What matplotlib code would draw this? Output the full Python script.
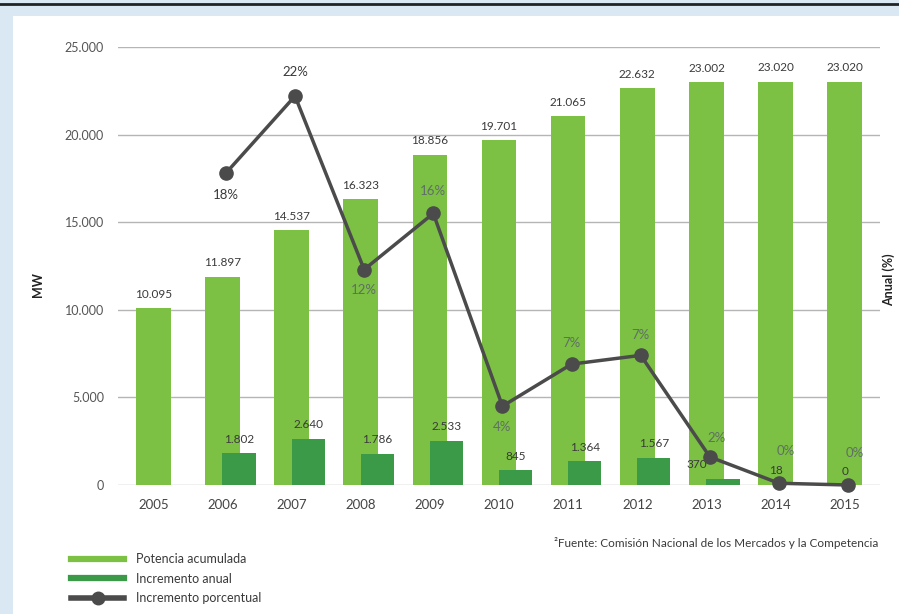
import numpy as np
import matplotlib.pyplot as plt
from matplotlib.lines import Line2D
from matplotlib.patches import Rectangle

plt.rcParams['font.family'] = ['Lato', 'DejaVu Sans']

# Datos (MW y %)
years = ["2005", "2006", "2007", "2008", "2009", "2010", "2011", "2012", "2013", "2014", "2015"]
potencia_acumulada = [10095, 11897, 14537, 16323, 18856, 19701, 21065, 22632, 23002, 23020, 23020]
incremento_anual = [None, 1802, 2640, 1786, 2533, 845, 1364, 1567, 370, 18, 0]
incremento_pct = [None, 17.8, 22.2, 12.3, 15.5, 4.5, 6.9, 7.4, 1.6, 0.1, 0.0]
ytick_labels = ["0", "5.000", "10.000", "15.000", "20.000", "25.000"]

# colores
c_acum = "#7cc143"
c_anual = "#3a9a48"
c_line = "#4b4b4b"
c_text = "#3a3a3a"

# desplazamientos de las etiquetas de porcentaje (puntos) y de incremento anual (unidades x)
pct_dy = [0, -16, 17, -14.5, 16.5, -15, 15, 15, 14, 23, 23]
pct_dx = [0, 0, 0, 0, 0, 0, 0, 0, 0.1, 0.1, 0.1]
anual_dx = [0, 0.24, 0.24, 0.24, 0.24, 0.24, 0.24, 0.24, -0.14, 0, 0]

fig = plt.figure(figsize=(8.99, 6.14), dpi=100, facecolor="#d9e8f2")
# panel blanco y filete superior
fig.patches.append(Rectangle((13 / 899, 0), 1, 1 - 16 / 614, transform=fig.transFigure,
                             facecolor="white", edgecolor="none", zorder=-10))
fig.add_artist(Line2D([0, 1], [1 - 4 / 614, 1 - 4 / 614], color="#222222", lw=2,
                      transform=fig.transFigure))

ax = fig.add_axes([118 / 899, 129 / 614, 762 / 899, 438 / 614])
ax.set_facecolor("none")
x = np.arange(len(years))

ax.bar(x, potencia_acumulada, width=0.5, color=c_acum, zorder=2)
anual_vals = [v if v is not None else 0 for v in incremento_anual]
ax.bar(x, anual_vals, width=0.48, align="edge", color=c_anual, zorder=3)

for i, v in enumerate(potencia_acumulada):
    ax.annotate(f"{v:,}".replace(",", "."), (x[i], v), xytext=(0, 6),
                textcoords="offset points", ha="center", va="bottom",
                fontsize=8.5, color=c_text, zorder=5)

for i, v in enumerate(incremento_anual):
    if v is None:
        continue
    ax.annotate(f"{v:,}".replace(",", "."), (x[i] + anual_dx[i], v), xytext=(0, 6),
                textcoords="offset points", ha="center", va="bottom",
                fontsize=8.5, color=c_text, zorder=5)

ax.set_ylim(0, 25000)
ax.set_xlim(-0.51, 10.51)
ax.set_yticks(np.arange(0, 25001, 5000))
ax.set_yticklabels(ytick_labels)
ax.set_xticks(x)
ax.set_xticklabels(years)
ax.tick_params(axis="y", length=0, pad=10, labelsize=9, labelcolor="#555555")
ax.tick_params(axis="x", length=0, pad=10, labelsize=9.5, labelcolor="#444444")
ax.grid(axis="y", color="#b5b5b5", lw=1, zorder=1)
ax.set_axisbelow(True)
for s in ax.spines.values():
    s.set_visible(False)

# eje secundario para el incremento porcentual
ax2 = ax.twinx()
ax2.set_ylim(0, 25)
ax2.set_yticks([])
for s in ax2.spines.values():
    s.set_visible(False)

px = [x[i] + 0.05 for i, v in enumerate(incremento_pct) if v is not None]
py = [v for v in incremento_pct if v is not None]
ax2.plot(px, py, color=c_line, lw=2.5, marker="o", markersize=9.5, zorder=4,
         clip_on=False)

for i, v in enumerate(incremento_pct):
    if v is None:
        continue
    on_bar = v + pct_dy[i] / 12 < potencia_acumulada[i] / 1000
    ax2.annotate(f"{v:.0f}%", (x[i] + 0.05 + pct_dx[i], v), xytext=(0, pct_dy[i]),
                 textcoords="offset points", ha="center", va="center",
                 fontsize=9.5, color="#5f6f66" if on_bar else c_text, zorder=5)

# títulos de los ejes
fig.text(38 / 899, 1 - 285 / 614, "MW", rotation=90, ha="center", va="center",
         fontsize=9, fontweight="bold", color="#222222")
fig.text(889 / 899, 1 - 280 / 614, "Anual (%)", rotation=90, ha="center", va="center",
         fontsize=9, fontweight="bold", color="#222222")

# leyenda
handles = [
    Line2D([], [], color=c_acum, lw=4.5),
    Line2D([], [], color=c_anual, lw=4.5),
    Line2D([], [], color=c_line, lw=4, marker="o", markersize=9),
]
labels = ["Potencia acumulada", "Incremento anual", "Incremento porcentual"]
fig.legend(handles, labels, loc="upper left", bbox_to_anchor=(60 / 899, 1 - 542 / 614),
           frameon=False, fontsize=9, handlelength=4.2, handletextpad=1.0,
           labelspacing=0.6, labelcolor="#3a3a3a")

fig.text(878 / 899, 1 - 543 / 614,
         "²Fuente: Comisión Nacional de los Mercados y la Competencia",
         ha="right", va="center", fontsize=8.5, color="#3a3a3a")

fig.savefig("out.png", dpi=100, facecolor=fig.get_facecolor())
